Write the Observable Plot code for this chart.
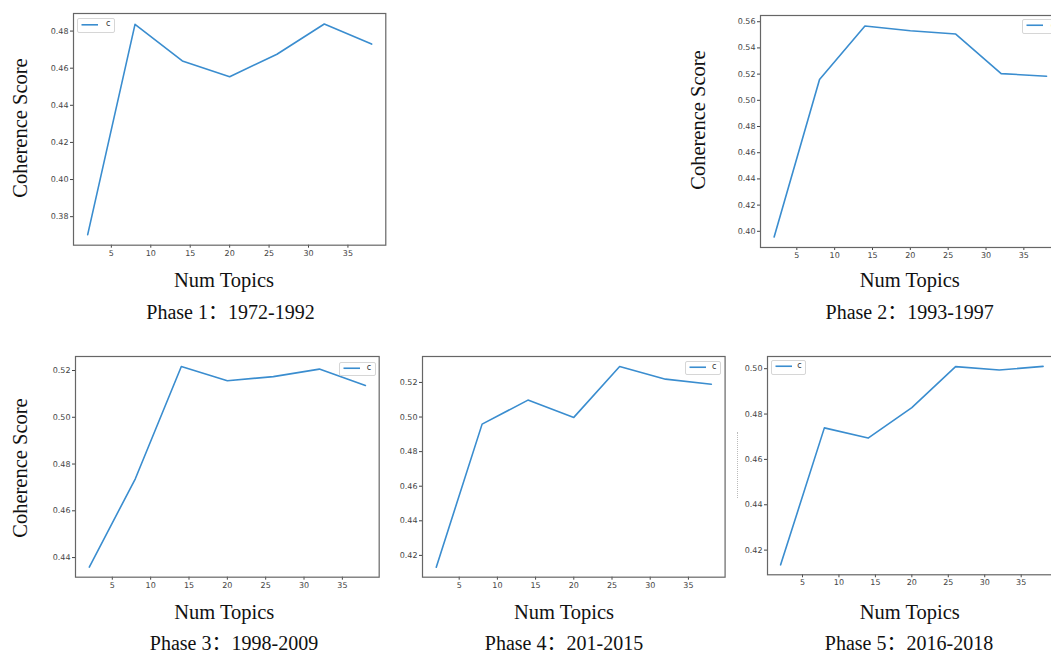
<!DOCTYPE html>
<html>
<head>
<meta charset="utf-8">
<script src="https://cdn.jsdelivr.net/npm/d3@7"></script>
<script src="https://cdn.jsdelivr.net/npm/@observablehq/plot@0.6"></script>
<style>
  html, body { margin: 0; padding: 0; background: #fff; overflow: hidden; }
  #root { position: relative; width: 1051px; height: 657px; overflow: hidden; background: #fff; }
  .lbl { position: absolute; transform: translate(-50%, -50%); white-space: nowrap;
         font-family: "Liberation Serif", "Noto Sans CJK SC", serif; color: #111; line-height: 1; }
  .ylbl { transform: translate(-50%, -50%) rotate(-90deg); }
  .legend { position: absolute; box-sizing: border-box; border: 1px solid #d6d6d6; border-radius: 2px; background: #fff; }
  .legend span { position: absolute; font-family: "DejaVu Sans", sans-serif; font-size: 8px; color: #333; line-height: 1; }
</style>
</head>
<body>
<div id="root"></div>
<script>
// ---- data ----
const numTopics = [2, 8, 14, 20, 26, 32, 38];
const phase1 = [0.3703, 0.4836, 0.4639, 0.4554, 0.4675, 0.4838, 0.4730];
const phase2 = [0.3957, 0.5159, 0.5567, 0.5531, 0.5506, 0.5204, 0.5184];
const phase3 = [0.4359, 0.4737, 0.5217, 0.5156, 0.5174, 0.5206, 0.5136];
const phase4 = [0.4132, 0.4959, 0.5098, 0.4998, 0.5292, 0.5219, 0.5190];
const phase5 = [0.4135, 0.4739, 0.4694, 0.4828, 0.5009, 0.4994, 0.5010];
const xTicks = [5, 10, 15, 20, 25, 30, 35];
const yTicks1 = [0.38, 0.40, 0.42, 0.44, 0.46, 0.48];
const yTicks2 = [0.40, 0.42, 0.44, 0.46, 0.48, 0.50, 0.52, 0.54, 0.56];
const yTicks3 = [0.44, 0.46, 0.48, 0.50, 0.52];
const yTicks4 = [0.42, 0.44, 0.46, 0.48, 0.50, 0.52];
const yTicks5 = [0.42, 0.44, 0.46, 0.48, 0.50];
const titles = ["Phase 1：1972-1992", "Phase 2：1993-1997", "Phase 3：1998-2009", "Phase 4：201-2015", "Phase 5：2016-2018"];
const xLabel = "Num Topics";
const yLabel = "Coherence Score";
const seriesName = "c";

const root = document.getElementById("root");

function panel(values, yTicks, L, R, T, B) {
  const ml = 45, mr = 4, mt = 4, mb = 24;
  const data = numTopics.map((x, i) => ({x, y: values[i]}));
  const lo = d3.min(values), hi = d3.max(values), pad = (hi - lo) * 0.05;
  const chart = Plot.plot({
    width: (R - L) + ml + mr,
    height: (B - T) + mt + mb,
    marginLeft: ml, marginRight: mr, marginTop: mt, marginBottom: mb,
    style: {background: "transparent", fontFamily: "DejaVu Sans, sans-serif", fontSize: "8px", color: "#444", overflow: "visible"},
    x: {domain: [0.2, 39.8], label: null},
    y: {domain: [lo - pad, hi + pad], label: null},
    marks: [
      Plot.axisX({ticks: xTicks, tickSize: 3, tickPadding: 2, tickFormat: d => String(d), label: null, fontSize: 8}),
      Plot.axisY({ticks: yTicks, tickSize: 3, tickPadding: 2, tickFormat: d3.format(".2f"), label: null, fontSize: 8}),
      Plot.lineY(data, {x: "x", y: "y", stroke: "#3a8dcf", strokeWidth: 1.6}),
      Plot.frame({stroke: "#666", strokeWidth: 1.2})
    ]
  });
  chart.style.position = "absolute";
  chart.style.left = (L - ml) + "px";
  chart.style.top = (T - mt) + "px";
  root.appendChild(chart);
}

function label(text, cx, cy, size, rotate) {
  const d = document.createElement("div");
  d.className = "lbl" + (rotate ? " ylbl" : "");
  d.textContent = text;
  d.style.left = cx + "px";
  d.style.top = cy + "px";
  d.style.fontSize = size + "px";
  root.appendChild(d);
}

function legend(left, top, w, h) {
  const d = document.createElement("div");
  d.className = "legend";
  d.style.left = left + "px"; d.style.top = top + "px";
  d.style.width = w + "px"; d.style.height = h + "px";
  const svg = d3.create("svg").attr("width", 20).attr("height", h)
    .style("position", "absolute").style("left", "2px").style("top", "-1px");
  svg.append("line").attr("x1", 1.5).attr("x2", 18).attr("y1", h / 2 - 1).attr("y2", h / 2 - 1)
    .attr("stroke", "#3a8dcf").attr("stroke-width", 1.6);
  d.appendChild(svg.node());
  const s = document.createElement("span");
  s.textContent = seriesName;
  s.style.left = (w - 10) + "px"; s.style.top = (h / 2 - 6) + "px";
  d.appendChild(s);
  root.appendChild(d);
}

// panels
panel(phase1, yTicks1, 72.7, 385, 13.3, 245);
panel(phase2, yTicks2, 760, 1059.7, 14.7, 246.7);
panel(phase3, yTicks3, 75.3, 379, 356, 576.7);
panel(phase4, yTicks4, 421.7, 724.3, 356, 576.7);
panel(phase5, yTicks5, 767.3, 1056, 356, 574.3);

// legends
legend(77.3, 17.7, 37.7, 15.6);
legend(1021.7, 19.3, 38, 14.5);
legend(339.3, 361.7, 36.4, 14.5);
legend(685, 360.7, 36, 14.5);
legend(770.7, 360, 35.5, 14.5);

// axis labels
label(yLabel, 20, 127.5, 20.5, true);
label(yLabel, 698.3, 120, 20.5, true);
label(yLabel, 20, 468, 20.5, true);
label(xLabel, 224, 280, 20.5);
label(xLabel, 909.7, 280, 20.5);
label(xLabel, 224.3, 611.7, 20.5);
label(xLabel, 564, 612, 20.5);
label(xLabel, 909.7, 612, 20.5);

// phase titles
label(titles[0], 230.5, 312, 20);
label(titles[1], 909.7, 311.7, 20);
label(titles[2], 234, 643.3, 20);
label(titles[3], 564, 643, 20);
label(titles[4], 909, 643, 20);

// faint dotted remnant left of panel 5
const dot = document.createElement("div");
dot.style.cssText = "position:absolute;left:737px;top:432px;height:66px;border-left:1px dotted #bbb;";
root.appendChild(dot);
</script>
</body>
</html>
